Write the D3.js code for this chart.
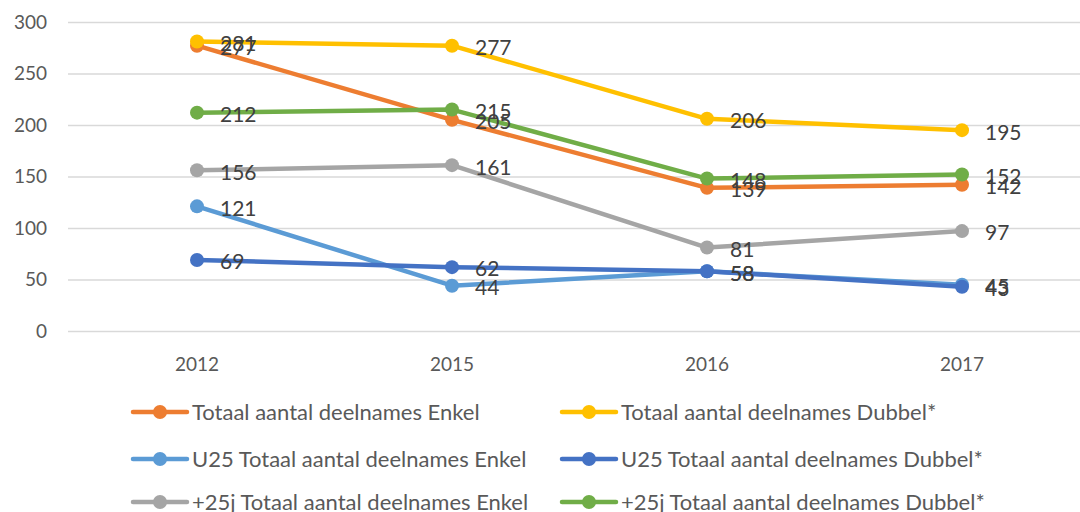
<!DOCTYPE html>
<html>
<head>
<meta charset="utf-8">
<script src="https://cdn.jsdelivr.net/npm/d3@7"></script>
<style>
  body { margin: 0; background: #fff; }
  svg { font-family: Lato, "Open Sans", sans-serif; }
</style>
</head>
<body>
<div id="chart"></div>
<script>
const years = ['2012', '2015', '2016', '2017']
const seriesNames = [
  'Totaal aantal deelnames Enkel',
  'Totaal aantal deelnames Dubbel*',
  'U25 Totaal aantal deelnames Enkel',
  'U25 Totaal aantal deelnames Dubbel*',
  '+25j Totaal aantal deelnames Enkel',
  '+25j Totaal aantal deelnames Dubbel*'
]
const totaalEnkel = [277, 205, 139, 142]
const totaalDubbel = [281, 277, 206, 195]
const u25Enkel = [121, 44, 58, 45]
const u25Dubbel = [69, 62, 58, 43]
const plusEnkel = [156, 161, 81, 97]
const plusDubbel = [212, 215, 148, 152]
const yTicks = [0, 50, 100, 150, 200, 250, 300]
const colors = ['#ED7D31', '#FFC000', '#5B9BD5', '#4472C4', '#A5A5A5', '#70AD47']

const values = [totaalEnkel, totaalDubbel, u25Enkel, u25Dubbel, plusEnkel, plusDubbel]

const width = 1080
const height = 512

const svg = d3.select('#chart').append('svg')
  .attr('width', width)
  .attr('height', height)

const x = d3.scaleBand().domain(years).range([69.5, 1089.5])
const y = d3.scaleLinear().domain([0, 300]).range([331, 22])

// gridlines + y labels
const yAxis = svg.append('g')
yAxis.selectAll('line').data(yTicks).enter().append('line')
  .attr('x1', 68).attr('x2', width)
  .attr('y1', d => y(d) + 0.5).attr('y2', d => y(d) + 0.5)
  .attr('stroke', '#d9d9d9').attr('stroke-width', 1.3)
yAxis.selectAll('text').data(yTicks).enter().append('text')
  .attr('x', 47).attr('y', d => y(d))
  .attr('dy', '0.35em')
  .attr('text-anchor', 'end')
  .attr('font-size', 19)
  .attr('fill', '#595959')
  .text(d => d)

// x labels
svg.append('g').selectAll('text').data(years).enter().append('text')
  .attr('x', d => x(d) + x.bandwidth() / 2)
  .attr('y', 364)
  .attr('dy', '0.35em')
  .attr('text-anchor', 'middle')
  .attr('font-size', 19)
  .attr('fill', '#595959')
  .text(d => d)

const line = d3.line()
  .x((d, i) => x(years[i]) + x.bandwidth() / 2)
  .y(d => y(d))

values.forEach((vals, s) => {
  const g = svg.append('g')
  g.append('path')
    .datum(vals)
    .attr('d', line)
    .attr('fill', 'none')
    .attr('stroke', colors[s])
    .attr('stroke-width', 4.5)
    .attr('stroke-linejoin', 'round')
    .attr('stroke-linecap', 'round')
  g.selectAll('circle').data(vals).enter().append('circle')
    .attr('cx', (d, i) => x(years[i]) + x.bandwidth() / 2)
    .attr('cy', d => y(d))
    .attr('r', 7)
    .attr('fill', colors[s])
})

// data labels on top
values.forEach((vals, s) => {
  svg.append('g').selectAll('text').data(vals).enter().append('text')
    .attr('x', (d, i) => x(years[i]) + x.bandwidth() / 2 + 23)
    .attr('y', d => y(d) + 2)
    .attr('dy', '0.35em')
    .attr('font-size', 21)
    .attr('fill', '#404040')
    .text(d => d)
})

// legend
const legendCols = [133, 562]
const legendRows = [412, 459, 502]
const legend = svg.append('g')
seriesNames.forEach((name, i) => {
  const lx = legendCols[i % 2]
  const ly = legendRows[Math.floor(i / 2)]
  const item = legend.append('g').attr('transform', `translate(${lx},${ly})`)
  item.append('line')
    .attr('x1', 0).attr('x2', 54)
    .attr('stroke', colors[i]).attr('stroke-width', 4.5)
    .attr('stroke-linecap', 'round')
  item.append('circle').attr('cx', 27).attr('r', 7).attr('fill', colors[i])
  item.append('text')
    .attr('x', 59).attr('dy', '0.35em')
    .attr('font-size', 22)
    .attr('fill', '#595959')
    .text(name)
})
</script>
</body>
</html>
